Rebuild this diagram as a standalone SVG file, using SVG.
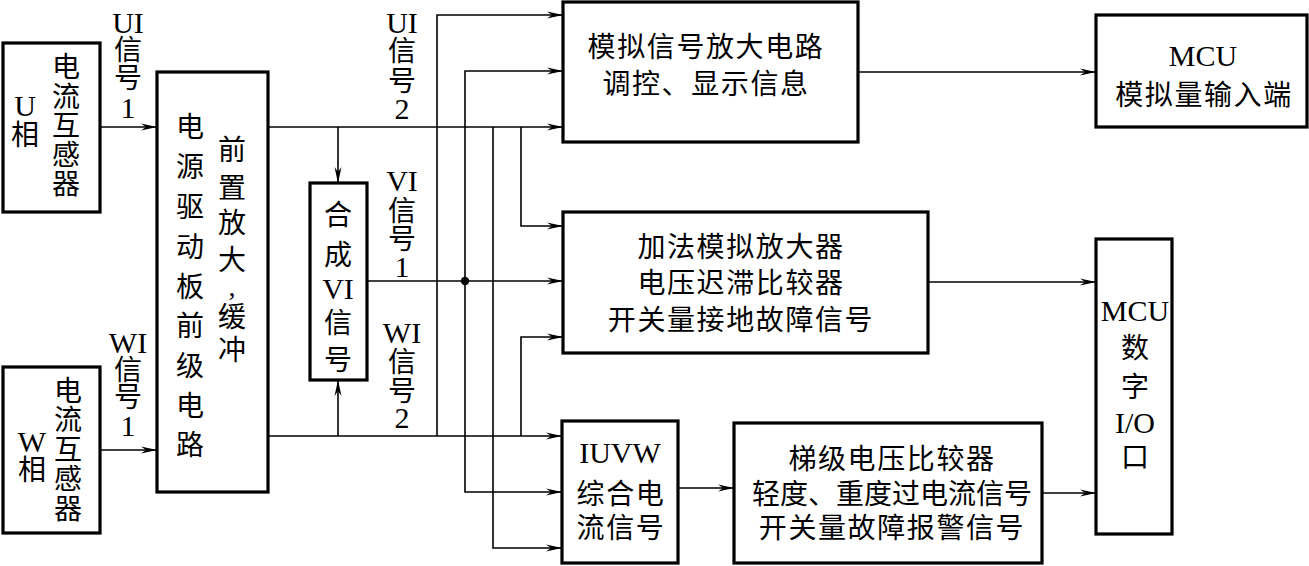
<svg xmlns="http://www.w3.org/2000/svg" width="1309" height="566" viewBox="0 0 1309 566">
<style>
.box{fill:#fff;stroke:#000;stroke-width:3.2}
.ln{fill:none;stroke:#000;stroke-width:1.6}
.ar{marker-end:url(#arr)}
text{font-family:"Liberation Serif","Noto Sans CJK SC",serif;font-size:28px;fill:#000;dominant-baseline:central;text-anchor:middle}
.sp{letter-spacing:1.6px}
.lat{font-size:30px}
</style>
<defs>
<marker id="arr" markerUnits="userSpaceOnUse" markerWidth="16" markerHeight="8" refX="16" refY="4" orient="auto">
<path d="M0,0.5 L16,4 L0,7.5 L5,4 Z" fill="#000"/>
</marker>
</defs>
<g id="connectors">
<path class="ln ar" d="M100,127 H157"/>
<path class="ln ar" d="M100,450 H157"/>
<path class="ln ar" d="M268,127 H563"/>
<path class="ln ar" d="M338,127 V183"/>
<path class="ln ar" d="M268,436 H562"/>
<path class="ln ar" d="M338,436 V380"/>
<path class="ln ar" d="M367,281 H563"/>
<path class="ln ar" d="M437,436 V15 H563"/>
<path class="ln ar" d="M465,281 V71 H563"/>
<path class="ln ar" d="M465,281 V492 H562"/>
<circle cx="465" cy="281" r="4.2" fill="#000"/>
<path class="ln ar" d="M493,127 V548 H562"/>
<path class="ln ar" d="M521,127 V226 H563"/>
<path class="ln ar" d="M521,436 V337 H563"/>
<path class="ln ar" d="M858,72 H1096"/>
<path class="ln ar" d="M928,282 H1096"/>
<path class="ln ar" d="M678,488 H734"/>
<path class="ln ar" d="M1042,493 H1096"/>
</g>
<g id="labels">
<text><tspan class="lat" x="128" y="22">UI</tspan><tspan x="128" y="50">信</tspan><tspan x="128" y="78">号</tspan><tspan class="lat" x="128" y="107">1</tspan></text>
<text><tspan class="lat" x="128" y="342">WI</tspan><tspan x="128" y="370">信</tspan><tspan x="128" y="397">号</tspan><tspan class="lat" x="128" y="425">1</tspan></text>
<text><tspan class="lat" x="402" y="22">UI</tspan><tspan x="402" y="51">信</tspan><tspan x="402" y="81">号</tspan><tspan class="lat" x="402" y="108">2</tspan></text>
<text><tspan class="lat" x="402" y="180">VI</tspan><tspan x="402" y="211">信</tspan><tspan x="402" y="239">号</tspan><tspan class="lat" x="402" y="266">1</tspan></text>
<text><tspan class="lat" x="402" y="332">WI</tspan><tspan x="402" y="362">信</tspan><tspan x="402" y="391">号</tspan><tspan class="lat" x="402" y="417">2</tspan></text>
</g>
<g id="u-ct">
<rect class="box" x="3" y="43" width="97" height="169"/>
<text><tspan class="lat" x="25" y="105">U</tspan><tspan x="25" y="135">相</tspan></text>
<text><tspan x="66" y="67">电</tspan><tspan x="66" y="97">流</tspan><tspan x="66" y="126">互</tspan><tspan x="66" y="155">感</tspan><tspan x="66" y="184">器</tspan></text>
</g>
<g id="w-ct">
<rect class="box" x="3" y="367" width="97" height="166"/>
<text><tspan class="lat" x="32" y="441">W</tspan><tspan x="32" y="470">相</tspan></text>
<text><tspan x="68" y="391">电</tspan><tspan x="68" y="420">流</tspan><tspan x="68" y="450">互</tspan><tspan x="68" y="479">感</tspan><tspan x="68" y="509">器</tspan></text>
</g>
<g id="driver">
<rect class="box" x="157" y="72" width="111" height="420"/>
<text><tspan x="190" y="127">电</tspan><tspan x="190" y="167">源</tspan><tspan x="190" y="207">驱</tspan><tspan x="190" y="247">动</tspan><tspan x="190" y="287">板</tspan><tspan x="190" y="326">前</tspan><tspan x="190" y="366">级</tspan><tspan x="190" y="406">电</tspan><tspan x="190" y="445">路</tspan></text>
<text><tspan x="232" y="150">前</tspan><tspan x="232" y="188">置</tspan><tspan x="232" y="223">放</tspan><tspan x="232" y="260">大</tspan><tspan x="232" y="286">,</tspan><tspan x="232" y="317">缓</tspan><tspan x="232" y="350">冲</tspan></text>
</g>
<g id="combine">
<rect class="box" x="310" y="183" width="57" height="197"/>
<text><tspan x="338" y="215">合</tspan><tspan x="338" y="255">成</tspan><tspan class="lat" x="338" y="288">VI</tspan><tspan x="338" y="323">信</tspan><tspan x="338" y="360">号</tspan></text>
</g>
<g id="analog-amp">
<rect class="box" x="563" y="2" width="295" height="140"/>
<text class="sp" x="706" y="47">模拟信号放大电路</text>
<text class="sp" x="706" y="84">调控、显示信息</text>
</g>
<g id="mcu-analog">
<rect class="box" x="1096" y="15" width="211" height="112"/>
<text class="lat" x="1203" y="55">MCU</text>
<text class="sp" x="1204" y="95">模拟量输入端</text>
</g>
<g id="adder">
<rect class="box" x="563" y="212" width="365" height="141"/>
<text class="sp" x="741" y="247">加法模拟放大器</text>
<text class="sp" x="741" y="283">电压迟滞比较器</text>
<text class="sp" x="741" y="320">开关量接地故障信号</text>
</g>
<g id="mcu-digital">
<rect class="box" x="1096" y="239" width="76" height="295"/>
<text><tspan class="lat" x="1135" y="310">MCU</tspan><tspan x="1135" y="348">数</tspan><tspan x="1135" y="387">字</tspan><tspan class="lat" x="1135" y="422">I/O</tspan><tspan x="1135" y="457">口</tspan></text>
</g>
<g id="iuvw">
<rect class="box" x="562" y="421" width="116" height="142"/>
<text class="lat" x="620" y="452">IUVW</text>
<text class="sp" x="621" y="494">综合电</text>
<text class="sp" x="621" y="528">流信号</text>
</g>
<g id="ladder">
<rect class="box" x="734" y="423" width="308" height="140"/>
<text class="sp" x="892" y="459">梯级电压比较器</text>
<text x="892" y="494">轻度、重度过电流信号</text>
<text class="sp" x="892" y="528">开关量故障报警信号</text>
</g>
</svg>
